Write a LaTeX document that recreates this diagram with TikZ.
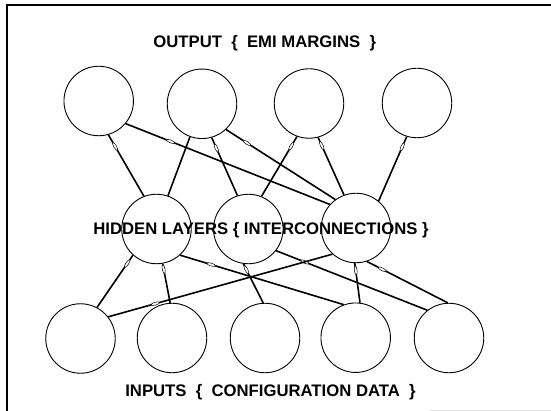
\documentclass[tikz,border=0pt]{standalone}
\usepackage{fontspec}
\setmainfont{Liberation Sans}
\usetikzlibrary{shapes.geometric}
\tikzset{
  neuron/.style={circle, draw, line width=0.9pt, minimum size=69.5pt, inner sep=0pt},
  link/.style={line width=1.6pt},
  wmark/.style={ellipse, draw, fill=white, line width=0.5pt, minimum width=9pt, minimum height=2.8pt, inner sep=0pt, sloped},
  caption/.style={font=\fontsize{16.7pt}{18pt}\selectfont\bfseries, anchor=base, inner sep=0pt}
}
\begin{document}
\begin{tikzpicture}[x=1pt,y=-1pt]
\useasboundingbox (0,0) rectangle (551,411);
% frame
\draw[line width=1.8pt] (7.2,5) -- (551,5);
\draw[line width=2.5pt] (7.2,4.1) -- (7.2,411);
\draw[line width=1pt, black!12] (430,410) -- (551,410);
% neurons
\node[neuron] (O1) at (98.7,101) {};
\node[neuron] (O2) at (202,103.8) {};
\node[neuron] (O3) at (309,103.5) {};
\node[neuron] (O4) at (417,103) {};
\node[neuron] (H1) at (156.5,229) {};
\node[neuron] (H2) at (248.3,229) {};
\node[neuron] (H3) at (356,228) {};
\node[neuron] (I1) at (80.5,338.5) {};
\node[neuron] (I2) at (172,338) {};
\node[neuron] (I3) at (265,338) {};
\node[neuron] (I4) at (355.7,337.7) {};
\node[neuron] (I5) at (449,338) {};
% output - hidden links
\draw[link] (O1.-74) -- (H1.111) node[wmark, pos=0.19] {};
\draw[link] (O1.-40) -- (H3.138) node[wmark, pos=0.22] {};
\draw[link] (O2.-110) -- (H1.71);
\draw[link] (O2.-74) -- (H2.108) node[wmark, pos=0.18] {};
\draw[link] (O2.-47) -- (H3.126) node[wmark, pos=0.19] {};
\draw[link] (O3.-110) -- (H2.68) node[wmark, pos=0.16] {};
\draw[link] (O3.-75) -- (H3.110) node[wmark, pos=0.14] {};
\draw[link] (O4.-107) -- (H3.50) node[wmark, pos=0.16] {};
% hidden - input links
\draw[link] (H1.-132) -- (I1.62) node[wmark, pos=0.16] {};
\draw[link] (H1.-80) -- (I2.93) node[wmark, pos=0.14] {};
\draw[link] (H1.-48) -- (I4.110) node[wmark, pos=0.19] {};
\draw[link] (H2.-98) -- (I3.93) node[wmark, pos=0.15] {};
\draw[link] (H2.-38) -- (I5.128) node[wmark, pos=0.19] {};
\draw[link] (H3.-132) -- (I1.38) node[wmark, pos=0.79] {};
\draw[link] (H3.-92) -- (I4.83) node[wmark, pos=0.18] {};
\draw[link] (H3.-72) -- (I5.92) node[wmark, pos=0.19] {};
% captions
\node[caption] (tout) at (264.7,47.3) {OUTPUT\ \ \{\ \ EMI MARGINS\ \ \}};
\node[caption] (thid) at (261,235) {HIDDEN LAYERS \{ INTERCONNECTIONS \}};
\node[caption] (tin) at (270.5,396.7) {INPUTS\ \ \{\ \ CONFIGURATION DATA\ \ \}};
\end{tikzpicture}
\end{document}
